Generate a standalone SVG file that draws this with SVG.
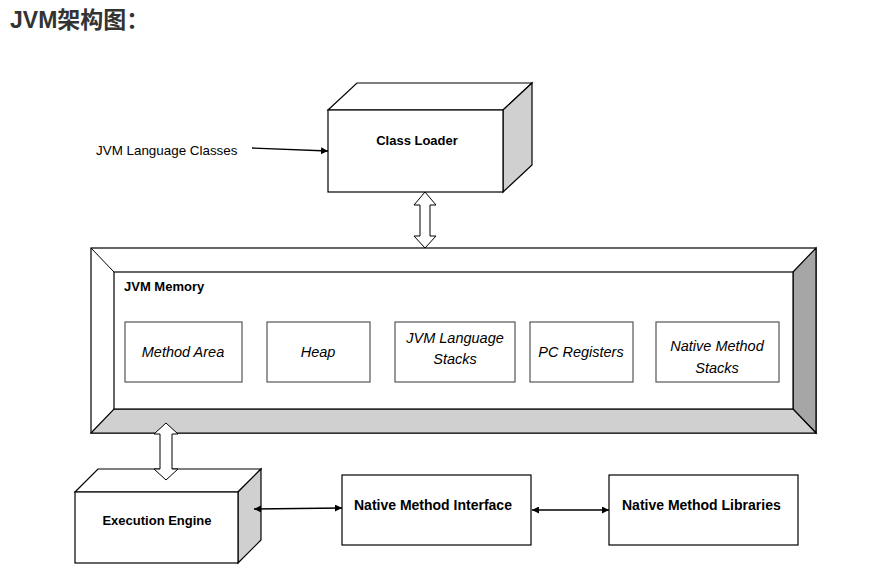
<svg xmlns="http://www.w3.org/2000/svg" width="871" height="585" viewBox="0 0 871 585">
<style>
.t{font-family:"Liberation Sans","Noto Sans CJK SC",sans-serif;fill:#000}
.b{font-weight:bold;font-size:13px}
.i{font-style:italic;font-size:14.5px}
.ln{fill:none;stroke:#000;stroke-width:1.3}
.box{fill:#fff;stroke:#000;stroke-width:1.2}
.sub{fill:#fff;stroke:#555;stroke-width:1.2}
.side{fill:#d0d0d0;stroke:#000;stroke-width:1.2}
.dark{fill:#a6a6a6;stroke:#000;stroke-width:1.2}
.dbl{fill:#fff;stroke:#000;stroke-width:1}
</style>
<defs>
<marker id="ah" viewBox="0 0 10 10" refX="10" refY="5" markerWidth="7" markerHeight="7" orient="auto-start-reverse" markerUnits="userSpaceOnUse">
<path d="M0,0 L10,5 L0,10 Z" fill="#000"/>
</marker>
</defs>
<rect width="871" height="585" fill="#fff"/>
<text x="10" y="28" class="t" style="font-weight:bold;font-size:23px;fill:#333">JVM架构图：</text>

<g id="class-loader">
<polygon class="box" points="328,110 357,83 532,83 503,110"/>
<polygon class="side" points="503,110 532,83 532,165 503,192"/>
<rect class="box" x="328" y="110" width="175" height="82"/>
<text x="417" y="145" class="t b" text-anchor="middle">Class Loader</text>
</g>

<g id="jvm-language-classes">
<text x="96" y="155" class="t" style="font-size:13.4px">JVM Language Classes</text>
</g>

<g id="jvm-memory">
<rect class="box" x="91" y="248" width="725" height="185"/>
<polygon class="dark" points="793,272 816,248 816,433 793,409"/>
<polygon class="side" points="91,433 114,409 793,409 816,433"/>
<line class="ln" x1="91" y1="248" x2="114" y2="272" style="stroke-width:1"/>
<rect class="box" x="114" y="272" width="679" height="137"/>
<text x="124" y="291" class="t b">JVM Memory</text>
</g>

<g id="method-area">
<rect class="sub" x="125" y="322" width="117" height="60"/>
<text x="183" y="357" class="t i" text-anchor="middle">Method Area</text>
</g>
<g id="heap">
<rect class="sub" x="267" y="322" width="103" height="60"/>
<text x="318" y="357" class="t i" text-anchor="middle">Heap</text>
</g>
<g id="jvm-language-stacks">
<rect class="sub" x="395" y="322" width="120" height="60"/>
<text x="455" y="343" class="t i" text-anchor="middle">JVM Language</text>
<text x="455" y="364" class="t i" text-anchor="middle">Stacks</text>
</g>
<g id="pc-registers">
<rect class="sub" x="530" y="322" width="103" height="60"/>
<text x="581" y="357" class="t i" text-anchor="middle">PC Registers</text>
</g>
<g id="native-method-stacks">
<rect class="sub" x="656" y="322" width="123" height="60"/>
<text x="717" y="351" class="t i" text-anchor="middle">Native Method</text>
<text x="717" y="373" class="t i" text-anchor="middle">Stacks</text>
</g>

<g id="execution-engine">
<polygon class="box" points="75,492 98,469 261,469 238,492"/>
<polygon class="side" points="238,492 261,469 261,540 238,563"/>
<rect class="box" x="75" y="492" width="163" height="71"/>
<text x="157" y="525" class="t b" text-anchor="middle">Execution Engine</text>
</g>

<g id="native-method-interface">
<rect class="box" x="342" y="475" width="189" height="70"/>
<text x="354" y="510" class="t b" style="font-size:14px">Native Method Interface</text>
</g>

<g id="native-method-libraries">
<rect class="box" x="609" y="475" width="189" height="70"/>
<text x="622" y="510" class="t b" style="font-size:14px">Native Method Libraries</text>
</g>

<g id="connectors">
<line class="ln" x1="252" y1="148" x2="328" y2="151" marker-end="url(#ah)"/>
<polygon class="dbl" points="425,192 436,205 430,205 430,236 436,236 425,248 414,236 420,236 420,205 414,205"/>
<polygon class="dbl" points="166,423 178,434 172,434 172,469 178,469 166,480 154,469 160,469 160,434 154,434"/>
<line class="ln" x1="254" y1="509" x2="342" y2="508" marker-start="url(#ah)" marker-end="url(#ah)"/>
<line class="ln" x1="532" y1="510" x2="609" y2="510" marker-start="url(#ah)" marker-end="url(#ah)"/>
</g>
</svg>
